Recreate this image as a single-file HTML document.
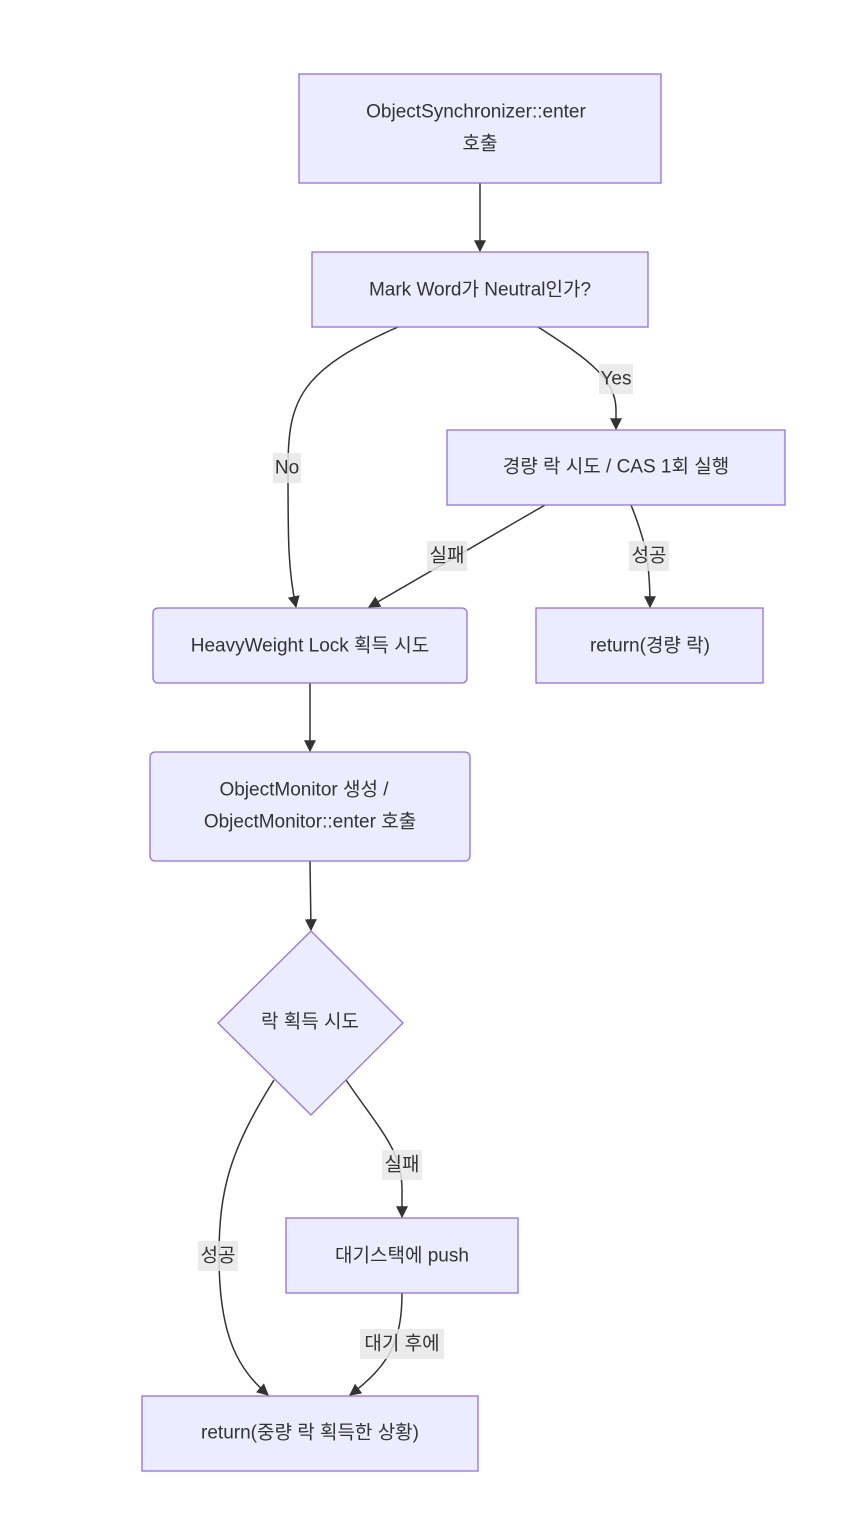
<!DOCTYPE html>
<html><head><meta charset="utf-8"><style>
html,body{margin:0;padding:0;background:#fff;}
text{font-family:"Liberation Sans","Noto Sans CJK KR",sans-serif;font-size:19px;fill:#333;text-anchor:middle;dominant-baseline:central;}
.n{fill:#ECECFF;stroke:#9370DB;stroke-width:1.3;}
.e{fill:none;stroke:#333;stroke-width:1.5;marker-end:url(#a);}
.lb{fill:#e8e8e8;opacity:0.85;}
</style></head><body>
<svg width="866" height="1528" viewBox="0 0 866 1528" xmlns="http://www.w3.org/2000/svg">
<defs><marker id="a" viewBox="0 0 10 10" refX="9" refY="5" markerWidth="8" markerHeight="8" orient="auto"><path d="M0,0 L10,5 L0,10 z" fill="#333"/></marker></defs>

<path class="e" d="M480,183 L480,251"/>
<path class="e" d="M398,327 C300,370 288,400 288,468 C288,540 288,570 296,607"/>
<path class="e" d="M538,327 C590,360 616,380 616,410 L616,429"/>
<path class="e" d="M545,505 L369,607"/>
<path class="e" d="M631,505 C645,540 650,560 650,607"/>
<path class="e" d="M310,683 L310,751"/>
<path class="e" d="M310,861 L311,930"/>
<path class="e" d="M274,1080 C230,1150 219,1190 219,1256 C219,1340 240,1370 268,1395"/>
<path class="e" d="M346,1080 C380,1130 402,1150 402,1190 L402,1217"/>
<path class="e" d="M402,1293 C402,1340 390,1365 350,1395"/>

<rect class="n" x="299" y="74" width="362" height="109"/>
<text x="476" y="112">ObjectSynchronizer::enter</text>
<text x="480" y="144">호출</text>

<rect class="n" x="312" y="252" width="336" height="75"/>
<text x="480" y="290">Mark Word가 Neutral인가?</text>

<rect class="n" x="447" y="430" width="338" height="75"/>
<text x="616" y="467">경량 락 시도 / CAS 1회 실행</text>

<rect class="n" x="153" y="608" width="314" height="75" rx="5"/>
<text x="310" y="646">HeavyWeight Lock 획득 시도</text>

<rect class="n" x="536" y="608" width="227" height="75"/>
<text x="650" y="646">return(경량 락)</text>

<rect class="n" x="150" y="752" width="320" height="109" rx="5"/>
<text x="304" y="790">ObjectMonitor 생성 /</text>
<text x="310" y="822">ObjectMonitor::enter 호출</text>

<polygon class="n" points="311,931 403,1023 311,1115 218,1023"/>
<text x="310" y="1022">락 획득 시도</text>

<rect class="n" x="286" y="1218" width="232" height="75"/>
<text x="402" y="1256">대기스택에 push</text>

<rect class="n" x="142" y="1396" width="336" height="75"/>
<text x="310" y="1433">return(중량 락 획득한 상황)</text>

<rect class="lb" x="273" y="453" width="28" height="30"/><text x="287" y="468">No</text>
<rect class="lb" x="599" y="364" width="34" height="30"/><text x="616" y="379">Yes</text>
<rect class="lb" x="427" y="541" width="40" height="30"/><text x="447" y="556">실패</text>
<rect class="lb" x="629" y="541" width="40" height="30"/><text x="649" y="556">성공</text>
<rect class="lb" x="198" y="1241" width="40" height="30"/><text x="218" y="1256">성공</text>
<rect class="lb" x="382" y="1150" width="40" height="30"/><text x="402" y="1165">실패</text>
<rect class="lb" x="360" y="1329" width="84" height="30"/><text x="402" y="1344">대기 후에</text>
</svg>
</body></html>
